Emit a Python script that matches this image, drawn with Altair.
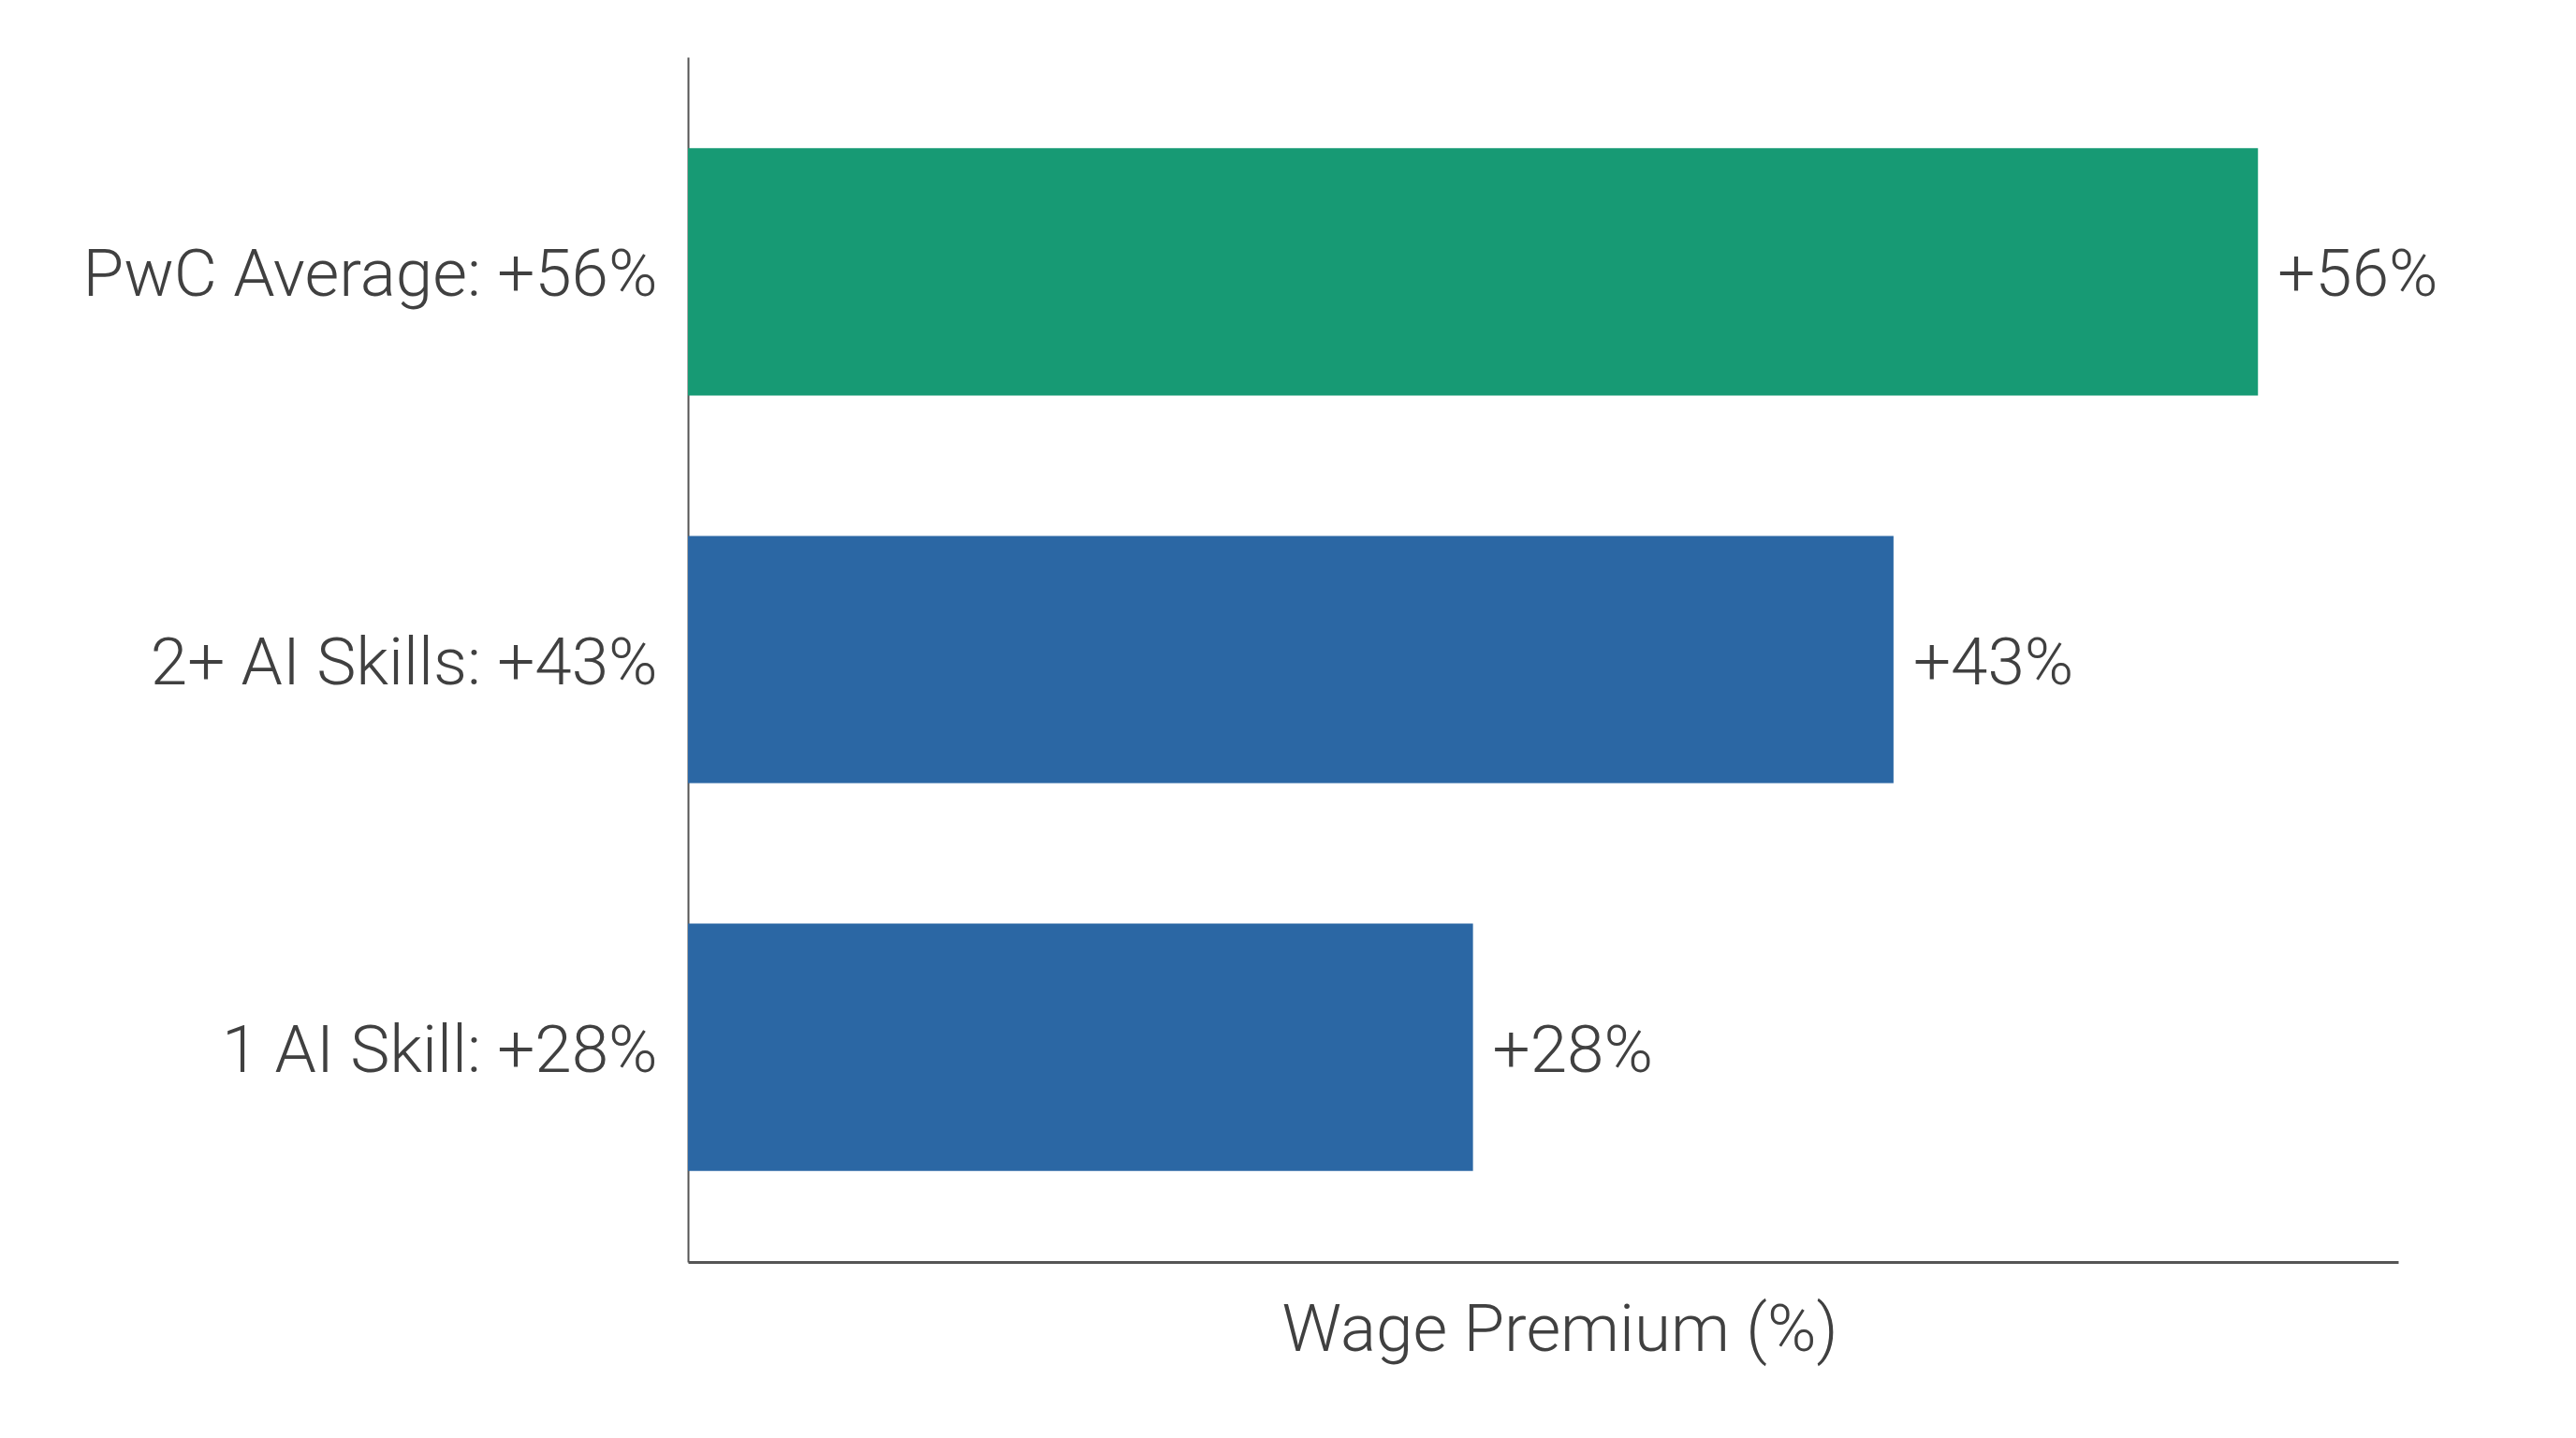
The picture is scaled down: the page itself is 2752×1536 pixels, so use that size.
import altair as alt
import pandas as pd

categories = ["PwC Average: +56%", "2+ AI Skills: +43%", "1 AI Skill: +28%"]
values = [56, 43, 28]
value_labels = ["+56%", "+43%", "+28%"]
groups = ["average", "skills", "skills"]

df = pd.DataFrame({
    "category": categories,
    "value": values,
    "label": value_labels,
    "group": groups,
})

FONT = "Roboto"
TEXT_COLOR = "#404040"
FS = 71

y_enc = alt.Y(
    "category:N",
    sort=categories,
    scale=alt.Scale(paddingInner=0.362, paddingOuter=0.235),
    axis=alt.Axis(
        title=None,
        ticks=False,
        labelFont=FONT,
        labelFontWeight=300,
        labelFontSize=FS,
        labelColor=TEXT_COLOR,
        labelPadding=33,
        labelOffset=5,
        labelLimit=1000,
        domainColor="#555555",
        domainWidth=2,
        grid=False,
    ),
)

x_enc = alt.X(
    "value:Q",
    scale=alt.Scale(domain=[0, 61], nice=False),
    axis=alt.Axis(
        title="Wage Premium (%)",
        titleFont=FONT,
        titleFontWeight=300,
        titleFontSize=FS,
        titleColor=TEXT_COLOR,
        titlePadding=38,
        titleX=931,
        labels=False,
        ticks=False,
        grid=False,
        domainColor="#555555",
        domainWidth=3,
    ),
)

bars = alt.Chart(df).mark_bar(cornerRadius=0).encode(
    y=y_enc,
    x=x_enc,
    color=alt.Color(
        "group:N",
        scale=alt.Scale(domain=["average", "skills"], range=["#179a74", "#2b67a4"]),
        legend=None,
    ),
)

texts = alt.Chart(df).mark_text(
    align="left",
    baseline="middle",
    dx=21,
    dy=5,
    font=FONT,
    fontWeight=300,
    fontSize=FS,
    color=TEXT_COLOR,
).encode(
    y=alt.Y("category:N", sort=categories),
    x=alt.X("value:Q"),
    text="label:N",
)

chart = (
    alt.layer(bars, texts)
    .properties(
        width=1827,
        height=1287,
        autosize=alt.AutoSizeParams(type="none"),
        padding={"left": 727, "top": 53, "right": 180, "bottom": 180},
        background="#ffffff",
    )
    .configure_view(stroke=None)
)

chart.save("out.html", embed_options={"renderer": "svg", "actions": False})
